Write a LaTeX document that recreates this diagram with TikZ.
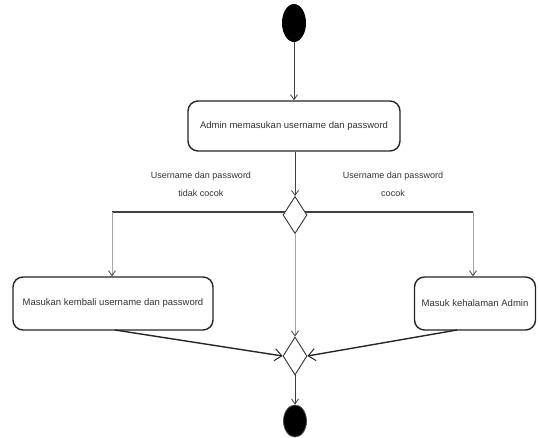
\documentclass[tikz,border=0pt]{standalone}
\usepackage{fontspec}
\setmainfont{Liberation Sans}
\usetikzlibrary{shapes.geometric,arrows.meta}
\begin{document}
\begin{tikzpicture}[x=1pt,y=-1pt,
  every node/.style={font=\fontsize{9.5}{11}\selectfont, text=black!80},
  action/.style={draw=black!85, line width=1.4pt, rounded corners=10pt, fill=white, inner sep=0pt},
  decision/.style={diamond, draw=black!80, line width=0.9pt, fill=white, minimum width=24pt, minimum height=37pt, inner sep=0pt},
  startnode/.style={ellipse, fill=black, minimum width=24pt, minimum height=38pt, inner sep=0pt},
  endnode/.style={ellipse, fill=black, draw=black!70, line width=0.8pt, minimum width=23pt, minimum height=32pt, inner sep=0pt},
  flow/.style={draw=black!75, line width=0.8pt, -{Straight Barb[length=5pt,width=7pt]}},
  thinflow/.style={draw=black!35, line width=0.8pt, -{Straight Barb[length=5pt,width=7pt,color=black!75]}},
  merge/.style={draw=black!85, line width=1.4pt, -{Straight Barb[length=7pt,width=12pt,line width=1pt]}},
  guard/.style={align=center, font=\fontsize{9}{18}\selectfont}
]
\useasboundingbox (0,0) rectangle (538,438);

% nodes
\node[startnode] (start) at (294,23) {};
\node[action, minimum width=212pt, minimum height=50pt] (input) at (294,126) {Admin memasukan username dan password};
\coordinate (barL) at (112,212);
\coordinate (barR) at (473,212);
\draw[black!75, line width=2pt] (barL) -- (barR);
\node[decision] (check) at (295,215) {};
\node[action, minimum width=200pt, minimum height=53pt] (retry) at (113,303.5) {Masukan kembali username dan password};
\node[action, minimum width=121pt, minimum height=53pt] (admin) at (475,303.5) {Masuk kehalaman Admin};
\node[decision, minimum height=38pt] (join) at (295,356) {};
\node[endnode] (stop) at (295,421) {};

% guards
\node[guard] (gfail) at (201,184) {Username dan password\\tidak cocok};
\node[guard] (gok) at (393,184) {Username dan password\\cocok};

% flows
\draw[flow] (start) -- (input);
\draw[flow] (input.south -| check) -- (check.north);
\draw[thinflow] (barL) -- (barL |- retry.north);
\draw[thinflow] (barR) -- (barR |- retry.north);
\draw[thinflow] (check.south) -- (join.north);
\draw[merge] (115,330) -- (join.west);
\draw[merge] (457,330) -- (join.east);
\draw[flow] (join.south) -- (stop.north);
\end{tikzpicture}
\end{document}
